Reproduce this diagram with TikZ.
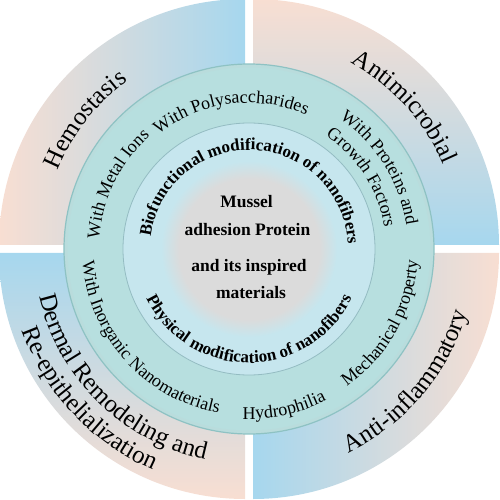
\documentclass[tikz,border=0pt]{standalone}
\usepackage{fontspec}
\setmainfont{Liberation Serif}
\usetikzlibrary{decorations.text}
\definecolor{peach}{HTML}{F8DED2}
\definecolor{skyb}{HTML}{A6D7EE}
\definecolor{tealr}{HTML}{B7DFDF}
\definecolor{tealrim}{HTML}{8EC2C3}
\definecolor{innerb}{HTML}{C6E6EE}
\definecolor{innerrim}{HTML}{94BCC2}
\definecolor{greyc}{HTML}{DBDBDB}
\pgfdeclareradialshading{greyfade}{\pgfpoint{0bp}{0bp}}{color(0bp)=(greyc); color(20bp)=(greyc); color(25bp)=(innerb); color(50bp)=(innerb)}
\newcommand*\OuterF{\fontsize{25}{25}\selectfont}
\newcommand*\MidF{\fontsize{18}{18}\selectfont}
\newcommand*\InnerF{\fontsize{17}{17}\selectfont\bfseries}
\newcommand*\CenterF{\fontsize{17.5}{17.5}\selectfont\bfseries}
\tikzset{
  arctext/.style={decorate, decoration={text along path, text align=center, text={#1}}},
  ctext/.style={anchor=base, inner sep=0pt, font=\CenterF},
}
\begin{document}
\begin{tikzpicture}[x=1pt,y=1pt]
\useasboundingbox (-249pt,-251pt) rectangle (250pt,249pt);
% outer sectors
\shade[left color=peach, right color=skyb] (-4pt,4pt) -- ++(-246pt,0pt) arc[start angle=180, end angle=90, radius=246pt] -- cycle;
\shade[top color=peach, bottom color=skyb] (4pt,4pt) -- ++(0pt,246pt) arc[start angle=90, end angle=0, radius=246pt] -- cycle;
\shade[left color=skyb, right color=peach] (4pt,-4pt) -- ++(246pt,0pt) arc[start angle=0, end angle=-90, radius=246pt] -- cycle;
\shade[top color=skyb, bottom color=peach] (-4pt,-4pt) -- ++(0pt,-246pt) arc[start angle=270, end angle=180, radius=246pt] -- cycle;
% teal ring
\fill[tealr] (0pt,0pt) circle[radius=185pt];
\draw[tealrim!60, line width=3pt, opacity=0.5] (0pt,0pt) circle[radius=183pt];
\draw[tealrim, line width=1.2pt] (0pt,0pt) circle[radius=185pt];
% inner ring
\fill[innerb] (0pt,0pt) circle[radius=126pt];
\draw[innerrim, line width=0.8pt] (0pt,0pt) circle[radius=126pt];
% grey centre
\shade[shading=greyfade] (0pt,0pt) circle[radius=88pt];
% outer texts
\path[arctext={|\OuterF|Hemostasis}] (181.7:207pt) arc[start angle=181.7, end angle=101.7, radius=207pt];
\path[arctext={|\OuterF|Antimicrobial}] (87.4:212pt) arc[start angle=87.4, end angle=-2.6, radius=212pt];
\path[arctext={|\OuterF|Anti-inflammatory}] (-90.1:227pt) arc[start angle=-90.1, end angle=9.9, radius=227pt];
\path[arctext={|\OuterF|Dermal Remodeling and}] (-199.5:215pt) arc[start angle=-199.5, end angle=-69.5, radius=215pt];
\path[arctext={|\OuterF|Re-epithelialization}] (-191.9:241pt) arc[start angle=-191.9, end angle=-81.9, radius=241pt];
% teal ring texts
\path[arctext={|\MidF|With Polysaccharides}] (147.6:146pt) arc[start angle=147.6, end angle=47.6, radius=146pt];
\path[arctext={|\MidF|With Metal Ions}] (198.8:150pt) arc[start angle=198.8, end angle=108.8, radius=150pt];
\path[arctext={|\MidF|With Proteins and}] (76.9:159pt) arc[start angle=76.9, end angle=-13.1, radius=159pt];
\path[arctext={|\MidF|Growth Factors}] (77.5:137pt) arc[start angle=77.5, end angle=-12.5, radius=137pt];
\path[arctext={|\MidF|With Inorganic  Nanomaterials}] (-188:167pt) arc[start angle=-188, end angle=-88, radius=167pt];
\path[arctext={|\MidF|Hydrophilia}] (-117.5:170pt) arc[start angle=-117.5, end angle=-37.5, radius=170pt];
\path[arctext={|\MidF|Mechanical property}] (-74.3:169pt) arc[start angle=-74.3, end angle=15.7, radius=169pt];
% inner ring texts
\path[arctext={|\InnerF|Biofunctional modification of nanofibers}] (176.8:99pt) arc[start angle=176.8, end angle=-1.2, radius=99pt];
\path[arctext={|\InnerF|Physical modification of nanofibers}] (-169.9:114pt) arc[start angle=-169.9, end angle=-9.9, radius=114pt];
% centre text
\node[ctext] (c1) at (-2.5pt,41pt) {Mussel};
\node[ctext] (c2) at (-1.5pt,13pt) {adhesion Protein};
\node[ctext] (c3) at (0pt,-23pt) {and its inspired};
\node[ctext] (c4) at (2pt,-49pt) {materials};
\end{tikzpicture}
\end{document}
